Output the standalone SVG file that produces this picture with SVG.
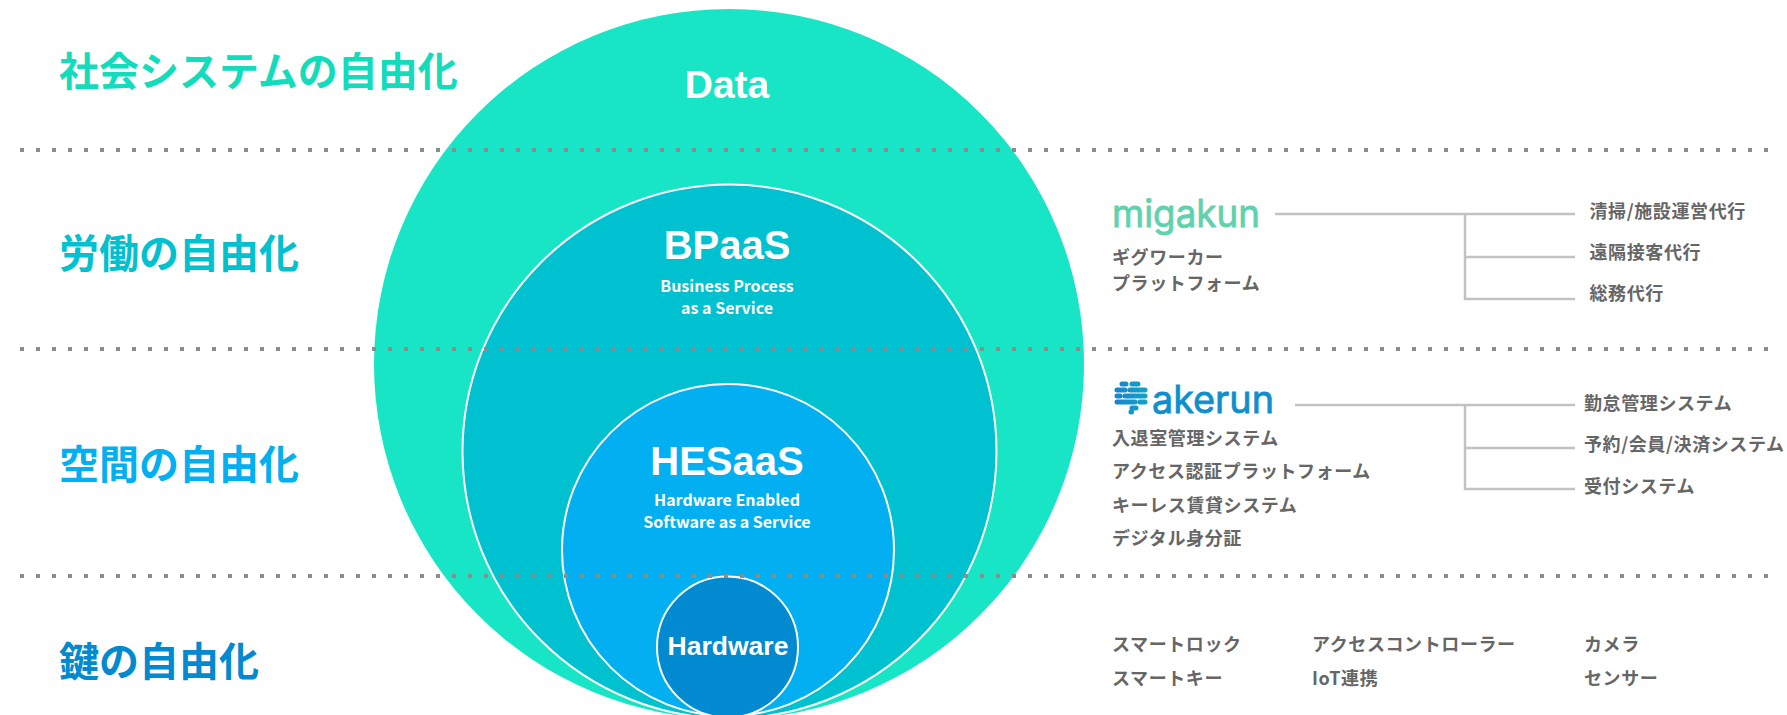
<svg xmlns="http://www.w3.org/2000/svg" width="1787" height="715" viewBox="0 0 1787 715">
<style>
.jp{font-family:"Noto Sans CJK JP","Noto Sans",sans-serif;font-weight:700}
.h{font-size:40px}
.t{font-size:18px;fill:#666;letter-spacing:.6px}
.en{font-family:"Liberation Sans",Arial,sans-serif;font-weight:700;fill:#fff;text-anchor:middle}
.s{font-family:"Noto Sans CJK JP","Noto Sans",sans-serif;font-weight:700;font-size:16px;fill:#fff;text-anchor:middle}
.c{stroke:#fff;stroke-width:2}
.dot{fill:none;stroke:#8c8c8c;stroke-width:4;stroke-dasharray:4 12}
.ln{fill:none;stroke:#c2c2c2;stroke-width:2.500}
.logo{font-family:Inter,sans-serif;font-weight:400;font-size:38px}
</style>
<defs><linearGradient id="ak" gradientUnits="userSpaceOnUse" x1="1115" x2="1147" y1="0" y2="0"><stop offset="0" stop-color="#1a84cc"/><stop offset="1" stop-color="#12a3c4"/></linearGradient></defs>
<rect width="1787" height="715" fill="#fff"/>
<g id="node-data"><circle cx="729" cy="364" r="355" fill="#17e5c5"/><text class="en" x="727" y="98" font-size="39">Data</text></g>
<g id="node-bpaas"><circle class="c" cx="729.500" cy="451.500" r="267" fill="#00c1d0"/><text class="en" x="727" y="259" font-size="40">BPaaS</text><text class="s" x="727" y="291.500">Business Process</text><text class="s" x="727" y="313.500">as a Service</text></g>
<g id="node-hesaas"><circle class="c" cx="728" cy="550" r="166" fill="#02b0f2"/><text class="en" x="727" y="475" font-size="40">HESaaS</text><text class="s" x="727" y="505.500">Hardware Enabled</text><text class="s" x="727" y="527.500">Software as a Service</text></g>
<g id="node-hardware"><circle class="c" cx="727.500" cy="647" r="70.500" fill="#028ad0"/><text class="en" x="728" y="655" font-size="26.500">Hardware</text></g>
<g id="dividers"><path class="dot" d="M20 150H1775M20 349H1775M20 576H1775"/></g>
<g id="labels">
<text class="jp h" x="59" y="86" fill="#13dcbc">社会システムの自由化</text>
<text class="jp h" x="59" y="268" fill="#00c1d0">労働の自由化</text>
<text class="jp h" x="59" y="479" fill="#02b0f2">空間の自由化</text>
<text class="jp h" x="59" y="676" fill="#028ad0">鍵の自由化</text>
</g>
<g id="connectors">
<path class="ln" d="M1275 214H1575M1465 214V299H1575M1465 257H1575"/>
<path class="ln" d="M1295 405H1575M1465 405V489H1575M1465 448H1575"/>
</g>
<g id="node-migakun">
<text class="logo" x="1112" y="227" fill="#5fd2ad" stroke="#5fd2ad" stroke-width=".8" textLength="148" lengthAdjust="spacingAndGlyphs">migakun</text>
<text class="jp t" x="1112" y="264">ギグワーカー</text>
<text class="jp t" x="1112" y="290">プラットフォーム</text>
<text class="jp t" x="1589.500" y="218">清掃/施設運営代行</text>
<text class="jp t" x="1589.500" y="259">遠隔接客代行</text>
<text class="jp t" x="1589.500" y="300">総務代行</text>
</g>
<g id="node-akerun">
<path fill="none" stroke="url(#ak)" stroke-width="5" stroke-linecap="round" d="M1122 384H1126M1132 384H1138M1117 390H1125M1130 390H1145M1117 396H1120M1125 396H1145M1117 402H1135M1140 402H1145M1132 408H1136M1131 412H1131.500"/>
<text class="logo" x="1152" y="413" fill="#0f8fcc" stroke="#0f8fcc" stroke-width=".8" textLength="122" lengthAdjust="spacingAndGlyphs">akerun</text>
<text class="jp t" x="1112" y="445">入退室管理システム</text>
<text class="jp t" x="1112" y="478">アクセス認証プラットフォーム</text>
<text class="jp t" x="1112" y="512">キーレス賃貸システム</text>
<text class="jp t" x="1112" y="545">デジタル身分証</text>
<text class="jp t" x="1584" y="410">勤怠管理システム</text>
<text class="jp t" x="1584" y="451">予約/会員/決済システム</text>
<text class="jp t" x="1584" y="493">受付システム</text>
</g>
<g id="node-hardware-items">
<text class="jp t" x="1112" y="651">スマートロック</text>
<text class="jp t" x="1112" y="685">スマートキー</text>
<text class="jp t" x="1312" y="651">アクセスコントローラー</text>
<text class="jp t" x="1312" y="685">IoT連携</text>
<text class="jp t" x="1584" y="651">カメラ</text>
<text class="jp t" x="1584" y="685">センサー</text>
</g>
</svg>
